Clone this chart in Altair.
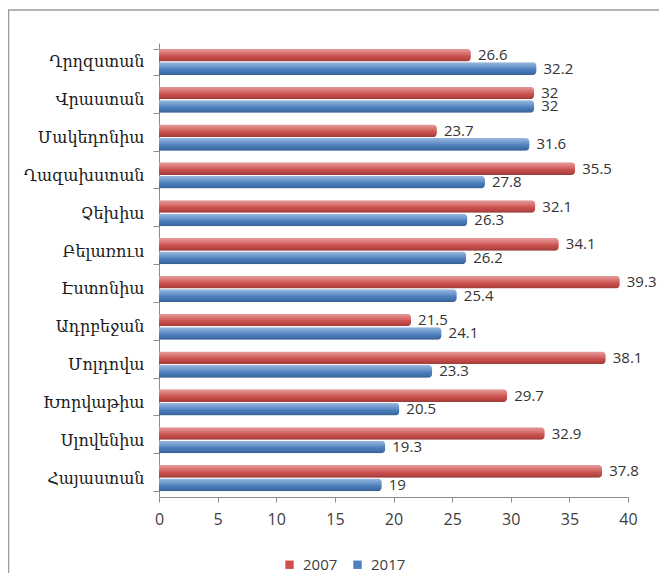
import altair as alt
import pandas as pd

categories = ["Ղրղզստան", "Վրաստան", "Մակեդոնիա", "Ղազախստան", "Չեխիա", "Բելառուս",
              "Էստոնիա", "Ադրբեջան", "Մոլդովա", "Խորվաթիա", "Սլովենիա", "Հայաստան"]
years = ["2007", "2017"]
values_2007 = [26.6, 32, 23.7, 35.5, 32.1, 34.1, 39.3, 21.5, 38.1, 29.7, 32.9, 37.8]
values_2017 = [32.2, 32, 31.6, 27.8, 26.3, 26.2, 25.4, 24.1, 23.3, 20.5, 19.3, 19]
x_ticks = [0, 5, 10, 15, 20, 25, 30, 35, 40]

rows = []
for c, a, b in zip(categories, values_2007, values_2017):
    rows.append({"country": c, "year": "2007", "value": a})
    rows.append({"country": c, "year": "2017", "value": b})
df = pd.DataFrame(rows)

W, H = 469, 454

y_enc = alt.Y("country:N", sort=categories,
              scale=alt.Scale(paddingInner=0.31, paddingOuter=0.155),
              axis=alt.Axis(title=None, tickBand="extent", labelFont="DejaVu Serif",
                            labelFontSize=16, labelColor="#1a1a1a", labelPadding=9,
                            tickSize=6, domainColor="#8c8c8c", tickColor="#8c8c8c"))
yoff = alt.YOffset("year:N", sort=years, scale=alt.Scale(paddingInner=0.06))
x_enc = alt.X("value:Q", scale=alt.Scale(domain=[0, 40], nice=False),
              axis=alt.Axis(title=None, values=x_ticks, grid=False, labelFlush=False,
                            labelFont="Open Sans", labelFontSize=16, labelColor="#404040",
                            tickSize=5, labelPadding=9, domainColor="#8c8c8c",
                            tickColor="#8c8c8c"))

base = alt.Chart(df)

bars = base.mark_bar(cornerRadiusEnd=4).encode(
    y=y_enc, yOffset=yoff, x=x_enc,
    color=alt.Color("year:N", sort=years,
                    scale=alt.Scale(domain=years, range=["#cf4f4c", "#4a7fc1"]),
                    legend=alt.Legend(title=None, orient="none", direction="horizontal",
                                      legendX=123, legendY=514, symbolType="square",
                                      symbolSize=70, symbolStrokeWidth=0,
                                      labelFont="Open Sans", labelFontSize=15,
                                      labelColor="#404040", columnPadding=12,
                                      labelOffset=6)),
)

shine = base.mark_bar(cornerRadiusEnd=4, color=alt.Gradient(
    gradient="linear", x1=0, x2=0, y1=0, y2=1,
    stops=[alt.GradientStop(color="rgba(255,255,255,0.45)", offset=0),
           alt.GradientStop(color="rgba(255,255,255,0.12)", offset=0.45),
           alt.GradientStop(color="rgba(0,0,0,0.05)", offset=0.7),
           alt.GradientStop(color="rgba(0,0,0,0.25)", offset=1)])).encode(
    y=alt.Y("country:N", sort=categories), yOffset=alt.YOffset("year:N", sort=years), x="value:Q")

labels = base.mark_text(align="left", baseline="middle", dx=7, font="Open Sans",
                        fontSize=15, color="#333333").encode(
    y=alt.Y("country:N", sort=categories), yOffset=alt.YOffset("year:N", sort=years),
    x="value:Q", text=alt.Text("value:Q"))

frame = alt.Chart(alt.Data(values=[{}])).mark_rect(
    fill=None, stroke="#9a9a9a", strokeWidth=1.5).encode(
    x=alt.value(-150.5), x2=alt.value(W + 100), y=alt.value(-33), y2=alt.value(H + 200))

chart = alt.layer(frame, bars, shine, labels).properties(
    width=W, height=H,
    padding={"left": 151, "top": 35, "right": 31, "bottom": 76},
    autosize=alt.AutoSizeParams(type="none"),
).configure_view(stroke=None)

chart.save("out.html", embed_options={"renderer": "svg", "actions": False})
